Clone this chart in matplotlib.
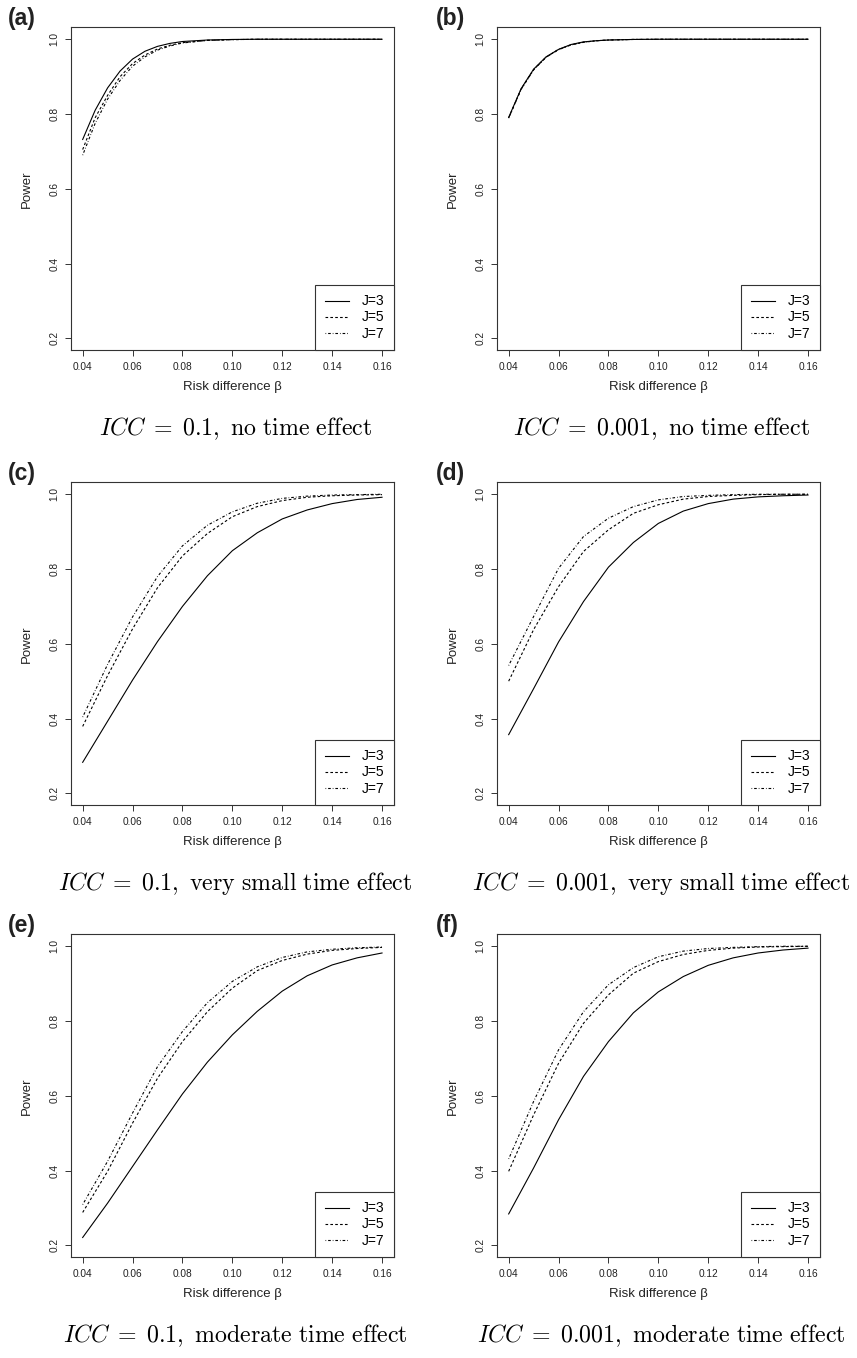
import matplotlib
matplotlib.use("Agg")
import matplotlib.pyplot as plt

# -------------------------
# Data
# -------------------------
beta_fine = [0.04, 0.045, 0.05, 0.055, 0.06, 0.065, 0.07, 0.075, 0.08,
             0.09, 0.10, 0.11, 0.12, 0.13, 0.14, 0.15, 0.16]
beta = [0.04, 0.05, 0.06, 0.07, 0.08, 0.09, 0.10,
        0.11, 0.12, 0.13, 0.14, 0.15, 0.16]

# (a) ICC = 0.1, no time effect
a_J3 = [0.732, 0.810, 0.870, 0.915, 0.947, 0.968, 0.981, 0.989, 0.994,
        0.998, 0.9995, 1.0, 1.0, 1.0, 1.0, 1.0, 1.0]
a_J5 = [0.705, 0.790, 0.850, 0.900, 0.935, 0.958, 0.974, 0.984, 0.991,
        0.997, 0.999, 1.0, 1.0, 1.0, 1.0, 1.0, 1.0]
a_J7 = [0.690, 0.775, 0.840, 0.890, 0.928, 0.953, 0.971, 0.982, 0.990,
        0.997, 0.999, 1.0, 1.0, 1.0, 1.0, 1.0, 1.0]

# (b) ICC = 0.001, no time effect
b_J3 = [0.791, 0.868, 0.920, 0.953, 0.973, 0.986, 0.993, 0.996, 0.998,
        0.9995, 1.0, 1.0, 1.0, 1.0, 1.0, 1.0, 1.0]
b_J5 = [0.790, 0.867, 0.919, 0.952, 0.973, 0.985, 0.992, 0.996, 0.998,
        0.9995, 1.0, 1.0, 1.0, 1.0, 1.0, 1.0, 1.0]
b_J7 = [0.789, 0.866, 0.918, 0.952, 0.972, 0.985, 0.992, 0.996, 0.998,
        0.9995, 1.0, 1.0, 1.0, 1.0, 1.0, 1.0, 1.0]

# (c) ICC = 0.1, very small time effect
c_J3 = [0.283, 0.393, 0.503, 0.606, 0.700, 0.782, 0.849, 0.897, 0.934,
        0.958, 0.975, 0.986, 0.992]
c_J5 = [0.379, 0.515, 0.640, 0.750, 0.835, 0.895, 0.940, 0.967, 0.983,
        0.992, 0.996, 0.998, 0.999]
c_J7 = [0.404, 0.545, 0.672, 0.780, 0.862, 0.917, 0.953, 0.976, 0.989,
        0.995, 0.998, 0.999, 1.0]

# (d) ICC = 0.001, very small time effect
d_J3 = [0.357, 0.480, 0.605, 0.713, 0.805, 0.871, 0.922, 0.955, 0.975,
        0.987, 0.993, 0.996, 0.998]
d_J5 = [0.500, 0.638, 0.753, 0.847, 0.905, 0.949, 0.972, 0.987, 0.994,
        0.997, 0.999, 1.0, 1.0]
d_J7 = [0.542, 0.673, 0.802, 0.887, 0.936, 0.967, 0.985, 0.994, 0.997,
        0.999, 1.0, 1.0, 1.0]

# (e) ICC = 0.1, moderate time effect
e_J3 = [0.221, 0.313, 0.411, 0.509, 0.605, 0.690, 0.763, 0.826, 0.880,
        0.921, 0.950, 0.969, 0.982]
e_J5 = [0.288, 0.398, 0.527, 0.647, 0.745, 0.825, 0.888, 0.935, 0.962,
        0.979, 0.989, 0.994, 0.997]
e_J7 = [0.309, 0.425, 0.554, 0.678, 0.772, 0.849, 0.906, 0.945, 0.970,
        0.985, 0.992, 0.996, 0.998]

# (f) ICC = 0.001, moderate time effect
f_J3 = [0.284, 0.407, 0.536, 0.652, 0.745, 0.822, 0.878, 0.919, 0.949,
        0.969, 0.982, 0.990, 0.995]
f_J5 = [0.398, 0.549, 0.687, 0.794, 0.870, 0.928, 0.959, 0.978, 0.989,
        0.995, 0.998, 0.999, 1.0]
f_J7 = [0.431, 0.585, 0.723, 0.825, 0.897, 0.943, 0.972, 0.987, 0.994,
        0.997, 0.999, 1.0, 1.0]

panel_letters = ["(a)", "(b)", "(c)", "(d)", "(e)", "(f)"]
captions = [
    r"$ICC\;=\;0.1,\ \mathrm{no\ time\ effect}$",
    r"$ICC\;=\;0.001,\ \mathrm{no\ time\ effect}$",
    r"$ICC\;=\;0.1,\ \mathrm{very\ small\ time\ effect}$",
    r"$ICC\;=\;0.001,\ \mathrm{very\ small\ time\ effect}$",
    r"$ICC\;=\;0.1,\ \mathrm{moderate\ time\ effect}$",
    r"$ICC\;=\;0.001,\ \mathrm{moderate\ time\ effect}$",
]
series_labels = ["J=3", "J=5", "J=7"]
yticks = [0.2, 0.4, 0.6, 0.8, 1.0]
xticks = [0.04, 0.06, 0.08, 0.10, 0.12, 0.14, 0.16]

panels = [
    (beta_fine, a_J3, a_J5, a_J7),
    (beta_fine, b_J3, b_J5, b_J7),
    (beta, c_J3, c_J5, c_J7),
    (beta, d_J3, d_J5, d_J7),
    (beta, e_J3, e_J5, e_J7),
    (beta, f_J3, f_J5, f_J7),
]

# -------------------------
# Style
# -------------------------
plt.rcParams["font.family"] = ["Liberation Sans", "DejaVu Sans"]
plt.rcParams["mathtext.fontset"] = "cm"
plt.rcParams["lines.scale_dashes"] = False

line_styles = ["-", (0, (1.9, 1.6)), (0, (0.5, 1.4, 1.9, 1.4))]

W, H = 857, 1358
fig = plt.figure(figsize=(W / 100, H / 100), dpi=100)

col_left = [70.7, 496.7]
row_top = [27.3, 482.3, 934.3]
ax_w, ax_h = 323.3, 323.0

for k, (x, s3, s5, s7) in enumerate(panels):
    r, c = divmod(k, 2)
    left = col_left[c] / W
    bottom = 1 - (row_top[r] + ax_h) / H
    ax = fig.add_axes([left, bottom, ax_w / W, ax_h / H])

    for ys, ls, lab in zip([s3, s5, s7], line_styles, series_labels):
        ax.plot(x, ys, color="black", lw=0.8, linestyle=ls, label=lab)

    ax.set_xlim(0.0352, 0.1648)
    ax.set_ylim(0.168, 1.032)
    ax.set_xticks(xticks)
    ax.set_xticklabels([f"{t:.2f}" for t in xticks])
    ax.set_yticks(yticks)
    ax.set_yticklabels([f"{t:.1f}" for t in yticks], rotation=90, va="center")
    ax.tick_params(length=4.3, width=0.7, labelsize=7.3, pad=4,
                   color="#333333", labelcolor="#222222")
    for sp in ax.spines.values():
        sp.set_linewidth(0.8)
        sp.set_color("#333333")

    ax.set_xlabel("Risk difference β", fontsize=9.5, color="#222222")
    ax.set_ylabel("Power", fontsize=9.5, color="#222222")
    ax.xaxis.set_label_coords(0.5, -0.095)
    ax.yaxis.set_label_coords(-0.118, 0.5)

    leg = ax.legend(loc="lower right", borderaxespad=0, fontsize=10,
                    fancybox=False, framealpha=1, edgecolor="#333333",
                    handlelength=1.75, handletextpad=0.9,
                    labelspacing=0.15, borderpad=0.7)
    leg.get_frame().set_linewidth(0.8)

    # panel letter
    fig.text((8 if c == 0 else 436) / W, 1 - (row_top[r] - 9) / H,
             panel_letters[k], fontsize=16.5, fontweight="bold",
             ha="left", va="center", color="#222222")

    # caption under the panel
    fig.text((col_left[c] + ax_w / 2 + 3) / W, 1 - (row_top[r] + 401) / H,
             captions[k], fontsize=17.2, ha="center", va="center")

fig.savefig("out.png", dpi=100)
